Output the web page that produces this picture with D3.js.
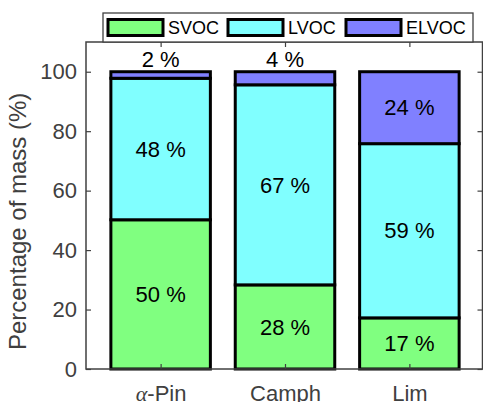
<!DOCTYPE html>
<html><head><meta charset="utf-8">
<script src="https://cdn.jsdelivr.net/npm/d3@7"></script>
<style>body{margin:0;background:#fff}svg{display:block}</style>
</head><body>
<svg id="c" width="483" height="402"></svg>
<script>
const categories = ["α-Pin", "Camph", "Lim"];
const seriesNames = ["SVOC", "LVOC", "ELVOC"];
const svoc = [50.2, 28.3, 17.2];
const lvoc = [47.6, 67.3, 58.6];
const elvoc = [2.2, 4.4, 24.2];
const yTicks = [0, 20, 40, 60, 80, 100];
const colors = ["#80ff80", "#80ffff", "#8080ff"];

const svg = d3.select("#c");
const font = "'Liberation Sans', Arial, sans-serif";
const axisColor = "#404040";

const x = d3.scaleLinear().domain([0.4, 3.6]).range([86, 484]);
const y = d3.scaleLinear().domain([0, 110]).range([369, 42]);

const table = categories.map((c, i) => ({cat: c, idx: i + 1, SVOC: svoc[i], LVOC: lvoc[i], ELVOC: elvoc[i]}));
const stacked = d3.stack().keys(seriesNames)(table);
const bw = 0.8;

// bars
const g = svg.append("g");
stacked.forEach((layer, si) => {
  g.selectAll(null).data(layer).enter().append("rect")
    .attr("x", d => x(d.data.idx - bw / 2))
    .attr("width", d => x(d.data.idx + bw / 2) - x(d.data.idx - bw / 2))
    .attr("y", d => y(d[1]))
    .attr("height", d => y(d[0]) - y(d[1]))
    .attr("fill", colors[si])
    .attr("stroke", "#000")
    .attr("stroke-width", 3);
});

// axes
const yLeft = d3.axisLeft(y).tickValues(yTicks).tickSize(-5).tickSizeOuter(0).tickPadding(9);
const yRight = d3.axisRight(y).tickValues(yTicks).tickSize(-5).tickSizeOuter(0).tickFormat("");
const xBottom = d3.axisBottom(x).tickValues([1, 2, 3]).tickSize(-5).tickSizeOuter(0).tickPadding(16)
  .tickFormat((d, i) => "");
const xTop = d3.axisTop(x).tickValues([1, 2, 3]).tickSize(-5).tickSizeOuter(0).tickFormat("");

const gl = svg.append("g").attr("transform", `translate(${x(0.4)},0)`).call(yLeft);
const gr = svg.append("g").attr("transform", `translate(482.5,0)`).call(yRight);
const gb = svg.append("g").attr("transform", `translate(0,${y(0)})`).call(xBottom);
const gt = svg.append("g").attr("transform", `translate(0,${y(110)})`).call(xTop);
[gl, gr, gb, gt].forEach(a => {
  a.select(".domain").remove();
  a.selectAll(".tick line").attr("stroke", axisColor).attr("stroke-width", 1.2);
  a.selectAll("text").attr("fill", axisColor).style("font-family", font).style("font-size", "22px");
});
// frame
svg.append("rect").attr("x", x(0.4)).attr("y", y(110)).attr("width", 482.5 - x(0.4)).attr("height", y(0) - y(110))
  .attr("fill", "none").attr("stroke", axisColor).attr("stroke-width", 1.5);

// category labels
gb.selectAll(".tick").each(function(d, i) {
  const t = d3.select(this).append("text").attr("y", 32).attr("text-anchor", "middle")
    .attr("fill", axisColor).style("font-family", font).style("font-size", "22px");
  const c = categories[i];
  if (c.startsWith("α")) {
    t.append("tspan").text("α").style("font-style", "italic").style("font-family", "'Liberation Serif', serif");
    t.append("tspan").text(c.slice(1));
  } else t.text(c);
});

// y label
svg.append("text").attr("transform", `translate(26,${(y(0) + y(100)) / 2 + 1}) rotate(-90)`)
  .attr("text-anchor", "middle").attr("fill", axisColor)
  .style("font-family", font).style("font-size", "24px").text("Percentage of mass (%)");

// value labels
stacked.forEach((layer, si) => {
  layer.forEach(d => {
    const v = d[1] - d[0];
    const cy = v < 10 ? y(100) - 12 : (y(d[0]) + y(d[1])) / 2;
    svg.append("text").attr("x", x(d.data.idx)).attr("y", cy).attr("dy", "0.35em")
      .attr("text-anchor", "middle").attr("fill", "#000")
      .style("font-family", font).style("font-size", "22px")
      .text(Math.round(v) + " %");
  });
});

// legend
const lg = svg.append("g");
lg.append("rect").attr("x", 103).attr("y", 13).attr("width", 370).attr("height", 29)
  .attr("fill", "#fff").attr("stroke", axisColor).attr("stroke-width", 1.3);
const legX = [108, 228, 346];
seriesNames.forEach((n, i) => {
  lg.append("rect").attr("x", legX[i]).attr("y", 19.5).attr("width", 55).attr("height", 16)
    .attr("fill", colors[i]).attr("stroke", "#000").attr("stroke-width", 3);
  lg.append("text").attr("x", legX[i] + 60).attr("y", 28).attr("dy", "0.35em")
    .attr("fill", "#000").style("font-family", font).style("font-size", "18px").text(n);
});
</script>
</body></html>
